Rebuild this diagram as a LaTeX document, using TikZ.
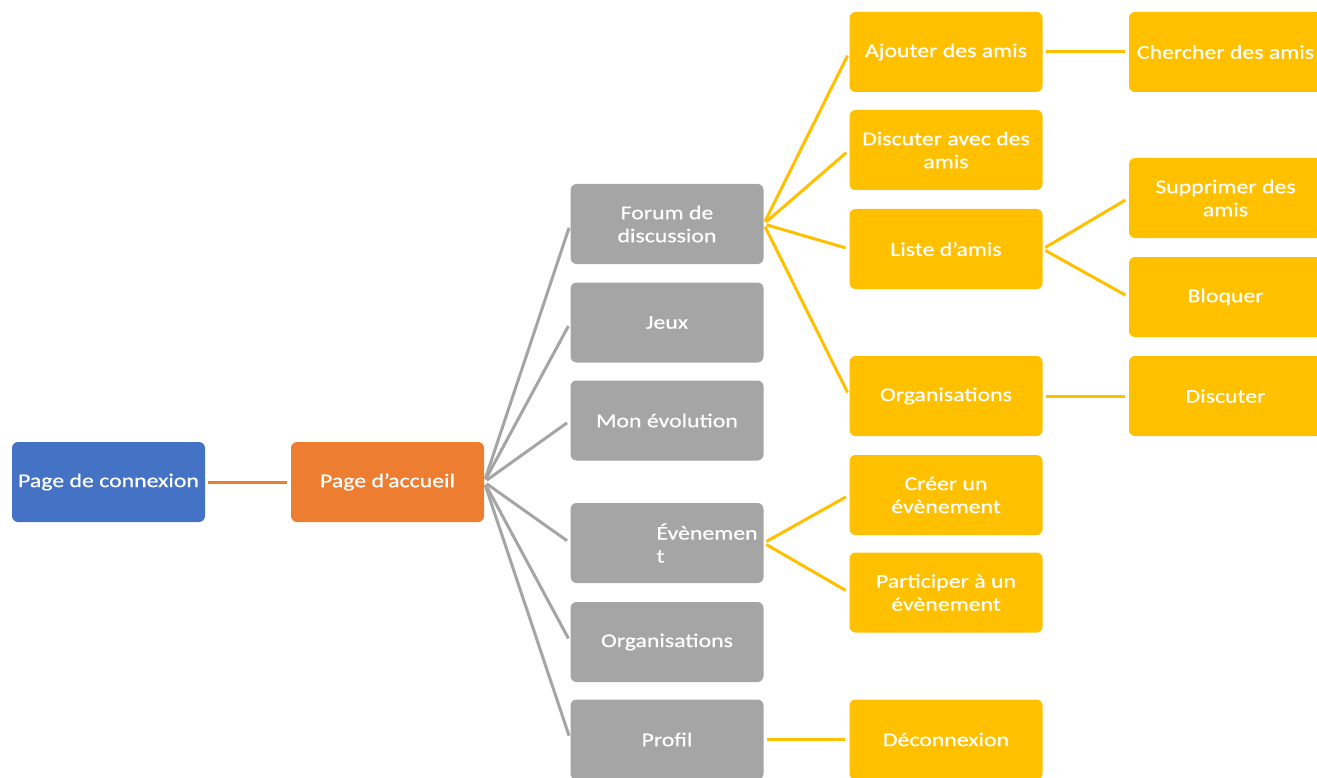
\documentclass[tikz,border=0pt]{standalone}
\usepackage{fontspec}
\setmainfont{Carlito}[FakeStretch=1.22,FakeBold=0.6]
\definecolor{cblue}{HTML}{4472C4}
\definecolor{corange}{HTML}{ED7D31}
\definecolor{cgray}{HTML}{A5A5A5}
\definecolor{cyellow}{HTML}{FFC000}
\begin{document}
\begin{tikzpicture}[x=1pt,y=-1pt,
  box/.style={rounded corners=6pt, minimum width=193pt, minimum height=80pt,
    inner sep=4pt, text=white, align=center,
    font=\fontsize{19.5}{23}\selectfont},
  bluebox/.style={box, fill=cblue},
  orangebox/.style={box, fill=corange},
  graybox/.style={box, fill=cgray},
  yellowbox/.style={box, fill=cyellow},
  link/.style={line width=3pt, shorten <=3pt, shorten >=4pt},
  glink/.style={link, draw=cgray},
  ylink/.style={link, draw=cyellow},
  olink/.style={link, draw=corange}]
\useasboundingbox (0,0) rectangle (1317,778);
\clip (0,0) rectangle (1317,778);
% level 0/1
\node[bluebox] (conn) at (108.5,482) {Page de connexion};
\node[orangebox] (acc) at (387.5,482) {Page d’accueil};
% gray column
\node[graybox] (forum) at (667,224) {Forum de\\discussion};
\node[graybox] (jeux) at (667,322.5) {Jeux};
\node[graybox] (evol) at (667,420.5) {Mon évolution};
\node[graybox, text width=185pt, align=left] (even) at (667,543) {\hspace*{82pt}Évènemen\\\hspace*{82pt}t};
\node[graybox] (orgs) at (667,642) {Organisations};
\node[graybox] (profil) at (667,739.5) {Profil};
% yellow column
\node[yellowbox] (ajout) at (946,52) {Ajouter des amis};
\node[yellowbox] (discav) at (946,150) {Discuter avec des\\amis};
\node[yellowbox] (liste) at (946,249) {Liste d’amis};
\node[yellowbox] (yorg) at (946,396) {Organisations};
\node[yellowbox] (creer) at (946,495) {Créer un\\évènement};
\node[yellowbox] (part) at (946,592.5) {Participer à un\\évènement};
\node[yellowbox] (deco) at (946,739.5) {Déconnexion};
% right column
\node[yellowbox] (cherch) at (1225.5,52) {Chercher des amis};
\node[yellowbox] (suppr) at (1225.5,198) {Supprimer des\\amis};
\node[yellowbox] (bloq) at (1225.5,297) {Bloquer};
\node[yellowbox] (disc) at (1225.5,396) {Discuter};
% connectors
\draw[olink] (conn.east) -- (acc.west);
\foreach \t in {forum,jeux,evol,even,orgs,profil}
  \draw[glink] (acc.east) -- (\t.west);
\foreach \t in {ajout,discav,liste,yorg}
  \draw[ylink] (forum.east) -- (\t.west);
\draw[ylink] (ajout.east) -- (cherch.west);
\draw[ylink] (liste.east) -- (suppr.west);
\draw[ylink] (liste.east) -- (bloq.west);
\draw[ylink] (yorg.east) -- (disc.west);
\draw[ylink] (even.east) -- (creer.west);
\draw[ylink] (even.east) -- (part.west);
\draw[ylink] (profil.east) -- (deco.west);
\end{tikzpicture}
\end{document}
